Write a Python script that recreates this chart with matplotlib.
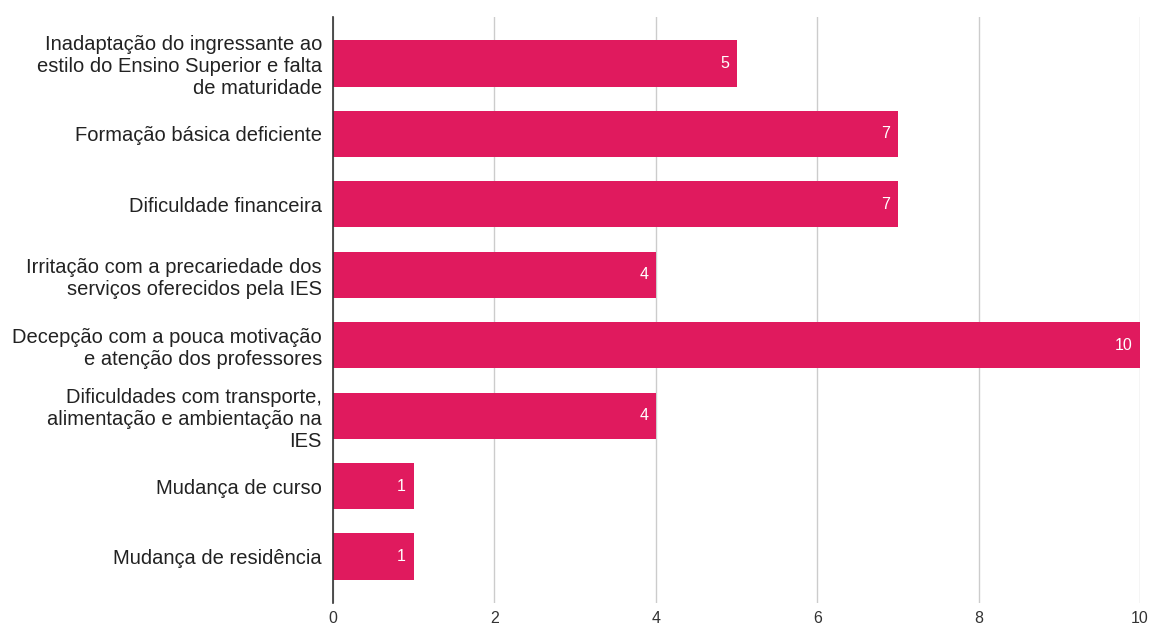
import matplotlib.pyplot as plt

plt.rcParams['font.family'] = ['Liberation Sans', 'DejaVu Sans']

categories = [
    'Inadaptação do ingressante ao\nestilo do Ensino Superior e falta\nde maturidade',
    'Formação básica deficiente',
    'Dificuldade financeira',
    'Irritação com a precariedade dos\nserviços oferecidos pela IES',
    'Decepção com a pouca motivação\ne atenção dos professores',
    'Dificuldades com transporte,\nalimentação e ambientação na\nIES',
    'Mudança de curso',
    'Mudança de residência',
]
values = [5, 7, 7, 4, 10, 4, 1, 1]
xticks = [0, 2, 4, 6, 8, 10]

bar_color = '#E01A5E'

fig = plt.figure(figsize=(11.5, 6.28), dpi=100)
ax = fig.add_axes([0.2896, 0.0398, 0.7017, 0.9332])

y = list(range(len(categories)))
ax.barh(y, values, height=0.655, color=bar_color, zorder=3)

for yi, v in zip(y, values):
    ax.annotate(str(v), xy=(v, yi), xytext=(-5.5, 0), textcoords='offset points',
                ha='right', va='center', color='white', fontsize=11.5, zorder=4)

ax.set_xlim(0, 10)
ax.set_ylim(7.66, -0.66)
ax.set_xticks(xticks)
ax.set_xticklabels([str(t) for t in xticks])
ax.set_yticks(y)
ax.set_yticklabels(categories, linespacing=1.2)

ax.grid(axis='x', color='#cccccc', linewidth=1, zorder=0)
ax.tick_params(axis='both', length=0, labelsize=14.5, colors='#222222')
ax.tick_params(axis='x', pad=6, labelsize=11.5, colors='#333333')
ax.tick_params(axis='y', pad=8)

for side in ['top', 'right', 'bottom']:
    ax.spines[side].set_visible(False)
ax.spines['left'].set_color('#333333')
ax.spines['left'].set_linewidth(1.2)
ax.spines['left'].set_zorder(5)

fig.savefig('out.png', dpi=100, facecolor='white')
